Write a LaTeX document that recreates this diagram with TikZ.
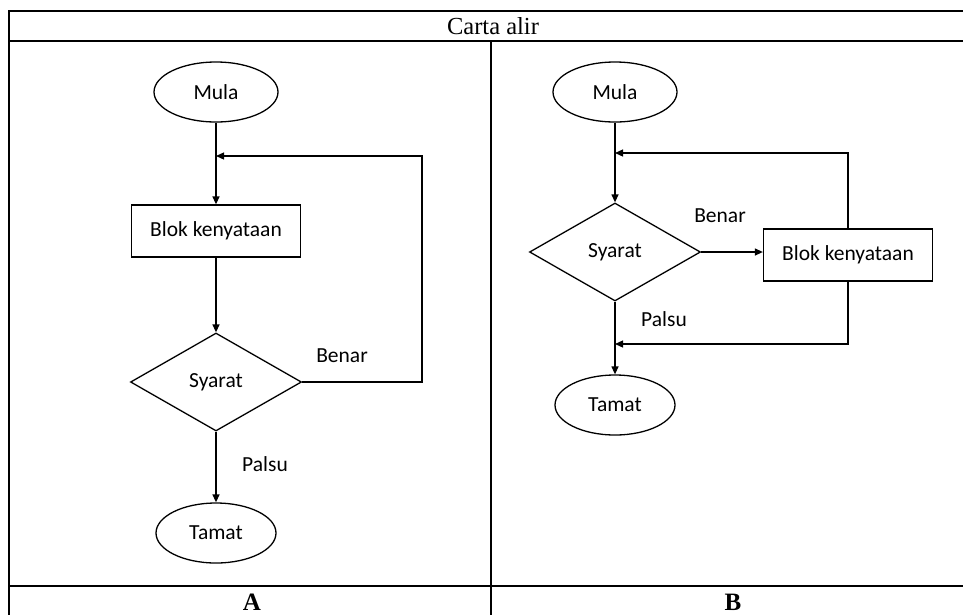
\documentclass[tikz,border=0pt]{standalone}
\usepackage{fontspec}
\setmainfont{Liberation Serif}
\newfontfamily\carlito{Carlito}
\usetikzlibrary{shapes.geometric,arrows.meta}

\begin{document}
\begin{tikzpicture}[x=1pt,y=-1pt,line width=1.3pt,
  >={Triangle[length=8pt,width=7pt]},
  term/.style={draw,ellipse,minimum width=124pt,minimum height=60pt,inner sep=0pt},
  blok/.style={draw,rectangle,minimum width=169pt,minimum height=52pt,inner sep=0pt},
  syarat/.style={draw,diamond,minimum width=171pt,minimum height=98pt,inner sep=0pt},
  lbl/.style={font=\carlito\fontsize{21.5}{25}\selectfont}]
\useasboundingbox (0,0) rectangle (963,614);
\newcommand{\tline}{2pt}

% jadual
\draw[line width=\tline] (990,11) -- (9,11) -- (9,640);
\draw[line width=\tline] (9,41) -- (990,41);
\draw[line width=\tline] (491,41) -- (491,640);
\draw[line width=\tline] (9,586) -- (990,586);
\node[font=\fontsize{24.5}{28}\selectfont] (judul) at (493,26) {Carta alir};
\node[anchor=base,font=\bfseries\fontsize{25}{28}\selectfont] (labA) at (252,610) {A};
\node[anchor=base,font=\bfseries\fontsize{25}{28}\selectfont] (labB) at (733,610) {B};

% carta A
\begin{scope}[every node/.append style={lbl}]
\node[term] (mulaA) at (216,92) {Mula};
\node[blok] (blokA) at (216,231) {Blok kenyataan};
\node[syarat] (syaratA) at (216,382) {Syarat};
\node[term,minimum width=120pt] (tamatA) at (216,533) {Tamat};
\node (benarA) at (342,356) {Benar};
\node (palsuA) at (265,464) {Palsu};
\coordinate (jA) at (216,156);
\coordinate (rA) at (422,156);
\draw [->] (mulaA) -- (blokA);
\draw [->] (blokA) -- (syaratA);
\draw [->] (syaratA) -- (tamatA);
\draw [->] (syaratA.east) -| (rA) -- (jA);
\end{scope}

% carta B
\begin{scope}[every node/.append style={lbl}]
\node[term] (mulaB) at (615,92) {Mula};
\node[syarat] (syaratB) at (615,252) {Syarat};
\node[blok] (blokB) at (848,255) {Blok kenyataan};
\node[term,minimum width=120pt] (tamatB) at (615,405) {Tamat};
\node (benarB) at (720,216) {Benar};
\node (palsuB) at (664,319) {Palsu};
\coordinate (jB) at (615,153);
\coordinate (kB) at (615,344);
\draw [->] (mulaB) -- (syaratB);
\draw [->] (syaratB.east) -- (syaratB.east -| blokB.west);
\draw [->] (blokB.north) |- (jB);
\draw [->] (blokB.south) |- (kB);
\draw [->] (syaratB) -- (tamatB);
\end{scope}
\end{tikzpicture}
\end{document}
